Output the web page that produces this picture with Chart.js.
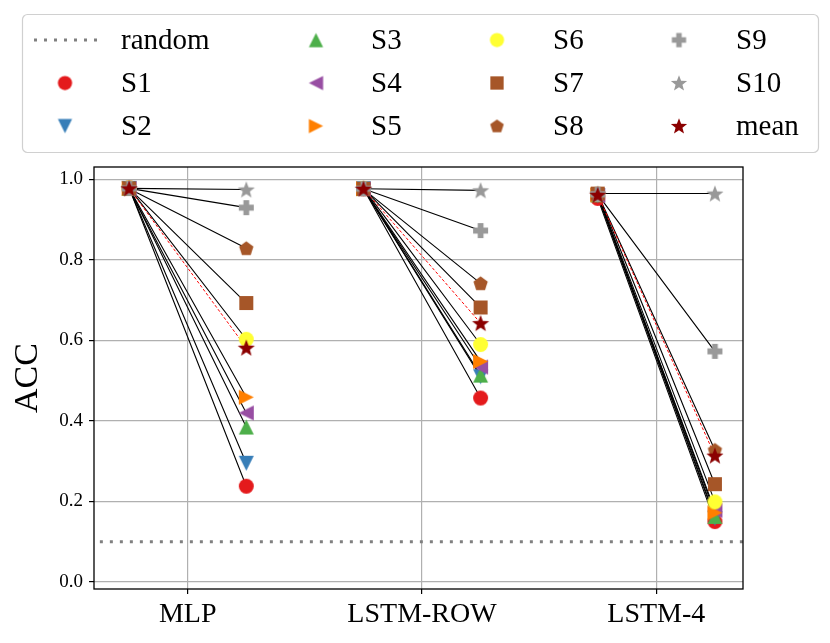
<!DOCTYPE html>
<html>
<head>
<meta charset="utf-8">
<script src="https://cdn.jsdelivr.net/npm/chart.js@4.4.0/dist/chart.umd.min.js"></script>
<style>
  html, body { margin: 0; padding: 0; background: #fff; }
  canvas { display: block; }
</style>
</head>
<body>
<canvas id="acc-chart" width="830" height="643"></canvas>
<script>
// data
var categories = ['MLP', 'LSTM-ROW', 'LSTM-4'];
var subjects = ['S1', 'S2', 'S3', 'S4', 'S5', 'S6', 'S7', 'S8', 'S9', 'S10'];
var yTicks = [0.0, 0.2, 0.4, 0.6, 0.8, 1.0];
var randomAcc = 0.1;

// accuracy before / after, one value per subject
var mlpBefore = [0.979, 0.978, 0.978, 0.977, 0.978, 0.979, 0.978, 0.977, 0.978, 0.978];
var mlpAfter  = [0.238, 0.295, 0.385, 0.420, 0.459, 0.603, 0.693, 0.829, 0.930, 0.975];
var rowBefore = [0.977, 0.977, 0.978, 0.976, 0.977, 0.978, 0.977, 0.976, 0.977, 0.977];
var rowAfter  = [0.457, 0.510, 0.514, 0.534, 0.548, 0.590, 0.682, 0.742, 0.873, 0.973];
var l4Before  = [0.953, 0.960, 0.962, 0.960, 0.962, 0.963, 0.965, 0.964, 0.963, 0.965];
var l4After   = [0.150, 0.158, 0.163, 0.178, 0.172, 0.199, 0.243, 0.328, 0.573, 0.965];
var meanBefore = [0.978, 0.977, 0.962];
var meanAfter  = [0.582, 0.643, 0.314];

var before = [mlpBefore, rowBefore, l4Before];
var after = [mlpAfter, rowAfter, l4After];

// styles
var colors = ['#e41a1c', '#377eb8', '#4daf4a', '#984ea3', '#ff7f00', '#ffff33', '#a65628', '#a65628', '#999999', '#999999'];
var shapes = ['circle', 'triDown', 'triUp', 'triLeft', 'triRight', 'circle', 'square', 'pentagon', 'plus', 'star'];
var meanColor = '#8b0000';
var FONT = "'Liberation Serif', 'Times New Roman', serif";
var startOff = -0.25, endOff = 0.25;

function makeMarker(shape, color, scale) {
  scale = scale || 1;
  var sizes = { circle: 15, triDown: 15, triUp: 15, triLeft: 15, triRight: 15, square: 14, pentagon: 15, plus: 15, star: 18 };
  var size = sizes[shape] * scale;
  var s = Math.ceil(size) + 4;
  var c = document.createElement('canvas');
  c.width = s; c.height = s;
  var g = c.getContext('2d');
  g.translate(s / 2, s / 2);
  g.fillStyle = color;
  g.beginPath();
  var r = size / 2, i, a;
  if (shape === 'circle') {
    g.arc(0, 0, r, 0, Math.PI * 2);
  } else if (shape === 'triUp') {
    g.moveTo(0, -r); g.lineTo(r, r); g.lineTo(-r, r);
  } else if (shape === 'triDown') {
    g.moveTo(0, r); g.lineTo(r, -r); g.lineTo(-r, -r);
  } else if (shape === 'triLeft') {
    g.moveTo(-r, 0); g.lineTo(r, -r); g.lineTo(r, r);
  } else if (shape === 'triRight') {
    g.moveTo(r, 0); g.lineTo(-r, -r); g.lineTo(-r, r);
  } else if (shape === 'square') {
    g.rect(-r, -r, size, size);
  } else if (shape === 'pentagon') {
    for (i = 0; i < 5; i++) {
      a = -Math.PI / 2 + i * 2 * Math.PI / 5;
      g.lineTo(Math.cos(a) * r, Math.sin(a) * r + r * 0.08);
    }
  } else if (shape === 'plus') {
    var w = r / 2.6;
    g.moveTo(-w, -r); g.lineTo(w, -r); g.lineTo(w, -w); g.lineTo(r, -w); g.lineTo(r, w);
    g.lineTo(w, w); g.lineTo(w, r); g.lineTo(-w, r); g.lineTo(-w, w); g.lineTo(-r, w);
    g.lineTo(-r, -w); g.lineTo(-w, -w);
  } else if (shape === 'star') {
    for (i = 0; i < 10; i++) {
      a = -Math.PI / 2 + i * Math.PI / 5;
      var rr = i % 2 === 0 ? r : r * 0.42;
      g.lineTo(Math.cos(a) * rr, Math.sin(a) * rr + r * 0.08);
    }
  }
  g.closePath();
  g.fill();
  return c;
}

function segments(bef, aft) {
  var pts = [];
  categories.forEach(function (c, k) {
    pts.push({ x: k + startOff, y: bef[k] });
    pts.push({ x: k + endOff, y: aft[k] });
    pts.push({ x: k + 0.5, y: null });
  });
  return pts;
}

var datasets = [];

// connecting lines first (drawn underneath the markers)
subjects.forEach(function (name, i) {
  datasets.push({
    label: name + ' line',
    data: segments(before.map(function (b) { return b[i]; }), after.map(function (b) { return b[i]; })),
    borderColor: '#000000',
    borderWidth: 1.1,
    pointRadius: 0,
    spanGaps: false,
    order: 100
  });
});
datasets.push({
  label: 'mean line',
  data: segments(meanBefore, meanAfter),
  borderColor: '#ff0000',
  borderWidth: 1,
  borderDash: [3, 2],
  pointRadius: 0,
  spanGaps: false,
  order: 99
});
datasets.push({
  label: 'random',
  data: [{ x: -0.375, y: randomAcc }, { x: 2.375, y: randomAcc }],
  borderColor: '#808080',
  borderWidth: 3,
  borderDash: [3, 7],
  pointRadius: 0,
  order: 98
});

// markers
var markerImgs = [];
subjects.forEach(function (name, i) {
  var img = makeMarker(shapes[i], colors[i]);
  markerImgs.push(makeMarker(shapes[i], colors[i], 0.95));
  datasets.push({
    label: name,
    data: segments(before.map(function (b) { return b[i]; }), after.map(function (b) { return b[i]; })),
    showLine: false,
    pointStyle: img,
    pointRadius: 7,
    order: 50 - i
  });
});
datasets.push({
  label: 'mean',
  data: segments(meanBefore, meanAfter),
  showLine: false,
  pointStyle: makeMarker('star', meanColor),
  pointRadius: 7,
  order: 10
});
var meanLegendImg = makeMarker('star', meanColor, 0.95);

// legend laid out in 4 columns x 3 rows, filled column by column
var legendLabels = ['random'].concat(subjects).concat(['mean']);
var legendMarkX = [65, 316, 497, 679];
var legendTextX = [121, 371, 553, 736];
var legendRowY = [40, 83, 126];

var gridLegend = {
  id: 'gridLegend',
  afterDraw: function (chart) {
    var ctx = chart.ctx;
    ctx.save();
    ctx.beginPath();
    ctx.roundRect(22.5, 14.5, 796, 138, 5);
    ctx.fillStyle = 'rgba(255,255,255,0.8)';
    ctx.fill();
    ctx.strokeStyle = '#d0d0d0';
    ctx.lineWidth = 1.2;
    ctx.stroke();
    ctx.font = '29px ' + FONT;
    ctx.fillStyle = '#000';
    ctx.textBaseline = 'alphabetic';
    legendLabels.forEach(function (lab, n) {
      var col = Math.floor(n / 3), row = n % 3;
      var y = legendRowY[row];
      if (lab === 'random') {
        ctx.save();
        ctx.strokeStyle = '#808080';
        ctx.lineWidth = 3;
        ctx.setLineDash([3, 7]);
        ctx.beginPath();
        ctx.moveTo(34, y); ctx.lineTo(98, y);
        ctx.stroke();
        ctx.restore();
      } else {
        var img = lab === 'mean' ? meanLegendImg : markerImgs[n - 1];
        ctx.drawImage(img, legendMarkX[col] - img.width / 2, y - img.height / 2);
      }
      ctx.fillText(lab, legendTextX[col], y + 9);
    });
    ctx.restore();
  }
};

var frame = {
  id: 'frame',
  afterDatasetsDraw: function (chart) {
    var a = chart.chartArea, ctx = chart.ctx;
    ctx.save();
    ctx.strokeStyle = '#000';
    ctx.lineWidth = 1.3;
    ctx.strokeRect(a.left, a.top, a.right - a.left, a.bottom - a.top);
    ctx.restore();
  }
};

var ctx = document.getElementById('acc-chart').getContext('2d');
new Chart(ctx, {
  type: 'line',
  data: { datasets: datasets },
  plugins: [frame, gridLegend],
  options: {
    responsive: false,
    animation: false,
    devicePixelRatio: 1,
    layout: { padding: { top: 167, right: 87, left: 0, bottom: 0 } },
    plugins: {
      legend: { display: false },
      tooltip: { enabled: false }
    },
    scales: {
      x: {
        type: 'linear',
        min: -0.40,
        max: 2.37,
        afterBuildTicks: function (scale) {
          scale.ticks = categories.map(function (c, i) { return { value: i }; });
        },
        afterFit: function (scale) { scale.height = 54; },
        ticks: {
          padding: 4,
          color: '#000',
          font: { family: FONT, size: 28 },
          callback: function (v) { return categories[Math.round(v)]; }
        },
        grid: { color: '#b0b0b0', lineWidth: 1.2, tickColor: '#000', tickLength: 5 },
        border: { display: false }
      },
      y: {
        type: 'linear',
        min: -0.0174,
        max: 1.031,
        afterBuildTicks: function (scale) {
          scale.ticks = yTicks.map(function (v) { return { value: v }; });
        },
        afterFit: function (scale) { scale.width = 94; },
        ticks: {
          padding: 6,
          color: '#000',
          font: { family: FONT, size: 19 },
          callback: function (v) { return v.toFixed(1); }
        },
        grid: { color: '#b0b0b0', lineWidth: 1.2, tickColor: '#000', tickLength: 5 },
        border: { display: false },
        title: {
          display: true,
          text: 'ACC',
          color: '#000',
          font: { family: FONT, size: 34 },
          padding: { top: 8, bottom: 0 }
        }
      }
    }
  }
});
</script>
</body>
</html>
